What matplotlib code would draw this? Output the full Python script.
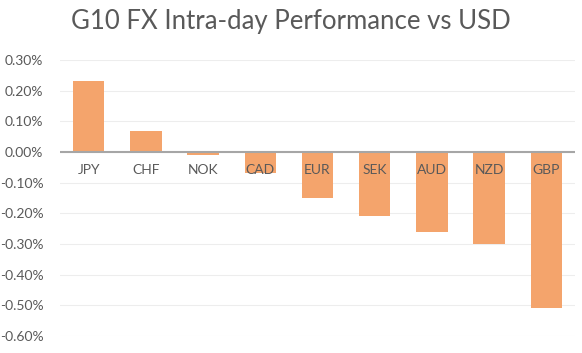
import matplotlib.pyplot as plt
from matplotlib.ticker import FuncFormatter
import numpy as np

currencies = ['JPY', 'CHF', 'NOK', 'CAD', 'EUR', 'SEK', 'AUD', 'NZD', 'GBP']
perf = [0.23, 0.07, -0.01, -0.07, -0.15, -0.21, -0.26, -0.30, -0.51]
yticks = [0.3, 0.2, 0.1, 0.0, -0.1, -0.2, -0.3, -0.4, -0.5, -0.6]

plt.rcParams['font.family'] = ['Lato', 'DejaVu Sans']

fig = plt.figure(figsize=(5.82, 3.53), dpi=100)
ax = fig.add_axes([60 / 582, 17 / 353, 515 / 582, 276 / 353])

x = np.arange(len(currencies))
ax.bar(x, perf, width=0.55, color='#F4A46C', zorder=2)
ax.axhline(0, color='#A6A6A6', lw=1.5, zorder=3)

for xi, name in zip(x, currencies):
    ax.annotate(name, (xi, 0), xytext=(0, -9), textcoords='offset points',
                ha='center', va='top', fontsize=10, color='#595959', zorder=4)

ax.set_xlim(-0.5, len(currencies) - 0.5)
ax.set_ylim(-0.6, 0.3)
ax.set_yticks(yticks)
ax.yaxis.set_major_formatter(FuncFormatter(lambda v, p: f'{v:.2f}%'))
ax.set_xticks([])
ax.grid(axis='y', color='#EDEDED', lw=0.8, zorder=0)
ax.tick_params(axis='y', length=0, labelsize=10, labelcolor='#595959', pad=12)
for s in ax.spines.values():
    s.set_visible(False)

fig.text(0.5, 0.938, 'G10 FX Intra-day Performance vs USD', ha='center', va='center',
         fontsize=18.5, color='#595959')

fig.savefig('out.png', dpi=100)
